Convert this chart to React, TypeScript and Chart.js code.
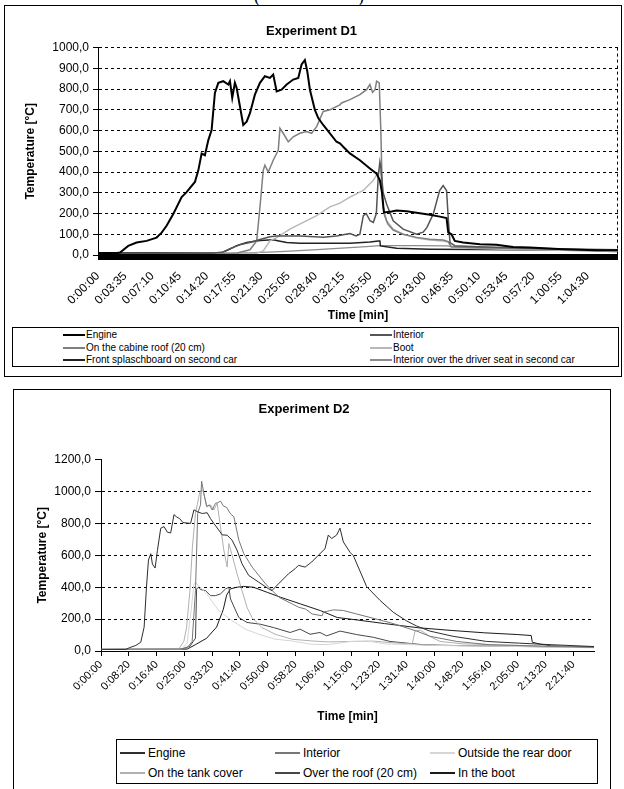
import React, { useEffect, useRef } from 'react';
import { Chart, registerables } from 'chart.js';

Chart.register(...registerables);

const FONT = '"Liberation Sans", Arial, Helvetica, sans-serif';

// ---------------- Experiment D1 ----------------
const d1TimeLabels = ['0:00:00', '0:03:35', '0:07:10', '0:10:45', '0:14:20', '0:17:55', '0:21:30', '0:25:05', '0:28:40', '0:32:15', '0:35:50', '0:39:25', '0:43:00', '0:46:35', '0:50:10', '0:53:45', '0:57:20', '1:00:55', '1:04:30'];
const d1TimeEnd = 4110; // s
const d1TempTicks = [0, 100, 200, 300, 400, 500, 600, 700, 800, 900, 1000];
const d1Names = ['Engine', 'Interior', 'On the cabine roof (20 cm)', 'Boot', 'Front splaschboard on second car', 'Interior over the driver seat in second car'];

// [time s, temperature °C]
const d1Engine = [[0, 10], [150, 10], [174, 12], [239, 44], [305, 60], [384, 68], [463, 84], [503, 108], [542, 141], [595, 198], [661, 279], [700, 303], [766, 352], [793, 408], [819, 489], [845, 481], [872, 554], [898, 603], [924, 781], [951, 830], [990, 838], [1030, 822], [1043, 838], [1061, 757], [1082, 830], [1096, 805], [1122, 716], [1148, 627], [1175, 643], [1201, 684], [1240, 773], [1280, 830], [1319, 862], [1359, 854], [1385, 870], [1412, 789], [1451, 797], [1491, 822], [1543, 846], [1583, 854], [1609, 919], [1635, 940], [1654, 886], [1675, 797], [1714, 700], [1741, 660], [1780, 627], [1833, 587], [1885, 546], [1912, 538], [1938, 522], [1991, 490], [2070, 457], [2149, 417], [2202, 392], [2228, 360], [2245, 300], [2260, 205], [2320, 210], [2360, 214], [2439, 211], [2544, 201], [2623, 194], [2702, 185], [2755, 178], [2768, 109], [2794, 100], [2820, 68], [2886, 60], [3019, 52], [3150, 49], [3281, 39], [3413, 36], [3677, 28], [3940, 23], [4110, 23]];
const d1Interior = [[0, 8], [900, 8], [990, 15], [1043, 30], [1122, 50], [1201, 60], [1280, 75], [1359, 88], [1412, 92], [1600, 92], [1780, 86], [1885, 92], [1991, 104], [2040, 92], [2070, 100], [2097, 190], [2120, 200], [2150, 165], [2176, 157], [2200, 200], [2215, 380], [2228, 449], [2236, 420], [2254, 300], [2281, 246], [2333, 165], [2412, 125], [2518, 100], [2570, 110], [2600, 133], [2650, 198], [2700, 311], [2728, 335], [2755, 311], [2768, 181], [2782, 60], [2820, 45], [3000, 40], [3300, 35], [3600, 30], [4110, 25]];
const d1CabineRoof = [[0, 5], [1100, 10], [1201, 25], [1254, 68], [1280, 230], [1306, 408], [1319, 433], [1346, 400], [1385, 457], [1425, 506], [1438, 611], [1464, 587], [1504, 546], [1543, 570], [1596, 587], [1649, 595], [1688, 587], [1728, 619], [1780, 692], [1833, 700], [1859, 708], [1912, 724], [1925, 733], [1991, 749], [2070, 773], [2123, 797], [2149, 822], [2170, 784], [2190, 797], [2202, 838], [2223, 830], [2236, 587], [2249, 250], [2265, 190], [2290, 150], [2333, 120], [2412, 100], [2518, 85], [2623, 76], [2728, 72], [2768, 65], [2790, 40], [3000, 35], [3400, 30], [4110, 22]];
const d1Boot = [[0, 5], [1250, 8], [1306, 20], [1359, 68], [1412, 84], [1517, 125], [1622, 157], [1728, 190], [1833, 232], [1912, 250], [1991, 279], [2097, 311], [2176, 360], [2215, 400], [2228, 415], [2241, 360], [2254, 230], [2281, 165], [2333, 125], [2412, 100], [2518, 82], [2623, 72], [2728, 68], [2768, 62], [2800, 35], [3200, 28], [4110, 18]];
const d1Splashboard = [[0, 10], [980, 12], [1030, 25], [1096, 45], [1175, 60], [1280, 70], [1385, 73], [1430, 68], [1491, 60], [1596, 57], [1780, 57], [1991, 57], [2150, 63], [2215, 68], [2228, 68], [2232, 44], [2360, 32], [2623, 28], [3000, 26], [3500, 24], [4110, 20]];
const d1DriverSeat = [[0, 5], [1050, 8], [1400, 15], [1700, 25], [1991, 36], [2150, 42], [2228, 45], [2500, 45], [2755, 44], [2800, 40], [3200, 35], [3600, 28], [4110, 15]];

const d1Series = [d1Engine, d1Interior, d1CabineRoof, d1Boot, d1Splashboard, d1DriverSeat];
const d1Colors = ['#000000', '#555555', '#7f7f7f', '#b8b8b8', '#222222', '#8c8c8c'];
const d1Widths = [2, 1.5, 1.5, 1.5, 1.5, 1.2];

// ---------------- Experiment D2 ----------------
const d2TimeLabels = ['0:00:00', '0:08:20', '0:16:40', '0:25:00', '0:33:20', '0:41:40', '0:50:00', '0:58:20', '1:06:40', '1:15:00', '1:23:20', '1:31:40', '1:40:00', '1:48:20', '1:56:40', '2:05:00', '2:13:20', '2:21:40'];
const d2TimeEnd = 8870; // s
const d2TempTicks = [0, 200, 400, 600, 800, 1000, 1200];
const d2Names = ['Engine', 'Interior', 'Outside the rear door', 'On the tank cover', 'Over the roof (20 cm)', 'In the boot'];

const d2Engine = [[0, 10], [448, 10], [507, 20], [627, 35], [716, 55], [776, 150], [818, 400], [854, 570], [896, 610], [925, 545], [973, 520], [1015, 630], [1075, 770], [1134, 780], [1194, 745], [1254, 740], [1313, 855], [1355, 842], [1415, 830], [1475, 805], [1612, 800], [1672, 885], [1731, 874], [1821, 862], [1910, 867], [1970, 830], [2030, 800], [2119, 758], [2179, 728], [2269, 726], [2358, 695], [2448, 632], [2537, 547], [2657, 474], [2836, 432], [3015, 390], [3075, 379], [3194, 421], [3373, 484], [3493, 516], [3553, 537], [3672, 526], [3791, 558], [3910, 600], [4030, 641], [4090, 727], [4150, 705], [4240, 727], [4300, 770], [4360, 684], [4480, 619], [4540, 598], [4779, 404], [5018, 318], [5258, 243], [5497, 189], [5677, 157], [5916, 125], [6335, 92], [6934, 60], [7533, 49], [8132, 39], [8870, 28]];
const d2Interior = [[0, 10], [1400, 12], [1550, 20], [1640, 60], [1700, 379], [1740, 863], [1790, 916], [1810, 1065], [1850, 990], [1900, 905], [1950, 916], [2000, 884], [2060, 926], [2100, 930], [2150, 940], [2200, 910], [2260, 900], [2330, 860], [2390, 842], [2480, 695], [2570, 610], [2720, 526], [2960, 421], [3200, 337], [3440, 295], [3560, 274], [3680, 263], [3800, 232], [3980, 221], [4000, 243], [4180, 258], [4360, 254], [4600, 232], [5200, 178], [5680, 125], [5920, 92], [6400, 60], [7000, 39], [8870, 22]];
const d2RearDoor = [[0, 10], [1450, 12], [1550, 50], [1620, 250], [1672, 421], [1700, 430], [1880, 368], [2119, 253], [2358, 190], [2597, 137], [2836, 105], [3134, 74], [3433, 63], [3791, 42], [4090, 40], [4500, 60], [4800, 62], [5100, 45], [6000, 35], [7500, 28], [8870, 20]];
const d2TankCover = [[0, 10], [1400, 12], [1490, 60], [1540, 147], [1600, 379], [1645, 653], [1700, 863], [1760, 968], [1780, 1000], [1830, 1010], [1910, 905], [1970, 916], [2030, 884], [2090, 926], [2150, 779], [2210, 632], [2270, 526], [2300, 674], [2360, 600], [2448, 484], [2537, 379], [2627, 274], [2716, 210], [2895, 147], [3134, 105], [3433, 74], [3791, 63], [4090, 57], [4540, 60], [4900, 62], [5300, 50], [5600, 45], [5650, 125], [5750, 130], [5900, 95], [6100, 60], [6500, 45], [7500, 35], [8870, 22]];
const d2OverRoof = [[0, 10], [1450, 12], [1600, 30], [1660, 60], [1700, 80], [1720, 390], [1760, 400], [1790, 385], [1880, 379], [1970, 347], [2060, 347], [2150, 358], [2240, 389], [2300, 400], [2330, 326], [2480, 210], [2627, 179], [2866, 168], [3105, 147], [3403, 116], [3582, 137], [3761, 105], [3940, 116], [4060, 95], [4300, 125], [4600, 103], [4900, 86], [5200, 60], [5800, 39], [6400, 34], [8870, 22]];
const d2Boot = [[0, 10], [1550, 12], [1700, 40], [1900, 80], [2080, 150], [2200, 260], [2260, 350], [2330, 390], [2450, 400], [2560, 405], [2740, 400], [2990, 368], [3230, 337], [3590, 295], [3950, 253], [4250, 210], [4600, 195], [5100, 172], [5700, 146], [6300, 129], [6900, 114], [7500, 103], [7740, 97], [7760, 55], [7900, 43], [8100, 32], [8870, 24]];

const d2Series = [d2Engine, d2Interior, d2RearDoor, d2TankCover, d2OverRoof, d2Boot];
const d2Colors = ['#2e2e2e', '#777777', '#d6d6d6', '#b0b0b0', '#474747', '#1a1a1a'];
const d2Widths = [1, 1, 1, 1, 1, 1];

// ---------------- helpers ----------------
const toSec = (s: string) => {
  const [h, m, sec] = s.split(':').map(Number);
  return h * 3600 + m * 60 + sec;
};
const fmtTemp = (v: number) => v.toFixed(1).replace('.', ',');

function buildDatasets(series: number[][][], names: string[], colors: string[], widths: number[]) {
  return series.map((s, i) => ({
    label: names[i],
    data: s.map(([x, y]) => ({ x, y })),
    borderColor: colors[i],
    backgroundColor: colors[i],
    borderWidth: widths[i],
    pointRadius: 0,
    tension: 0,
    fill: false,
  }));
}

const d1Frame = {
  id: 'd1Frame',
  afterDatasetsDraw(chart: any) {
    const { ctx, chartArea } = chart;
    const { left, right, top, bottom } = chartArea;
    ctx.save();
    ctx.strokeStyle = '#000';
    ctx.lineWidth = 1;
    ctx.setLineDash([3, 3]);
    ctx.beginPath();
    ctx.moveTo(Math.round(right) - 0.5, top);
    ctx.lineTo(Math.round(right) - 0.5, bottom);
    ctx.stroke();
    ctx.setLineDash([]);
    ctx.fillStyle = '#000';
    ctx.fillRect(left, bottom - 1, right - left, 6);
    ctx.restore();
  },
};

function useChart(ref: React.RefObject<HTMLCanvasElement>, makeConfig: () => any) {
  useEffect(() => {
    if (!ref.current) return;
    const chart = new Chart(ref.current, makeConfig());
    return () => chart.destroy();
  }, []);
}

function Legend(props: {
  names: string[]; colors: string[]; perRow: number; colX: number[]; rowY: number[];
  box: { left: number; top: number; width: number; height: number }; fontSize: number; lineLen: number; gap: number;
}) {
  const { names, colors, perRow, colX, rowY, box, fontSize, lineLen, gap } = props;
  return (
    <>
      <div style={{ position: 'absolute', left: box.left, top: box.top, width: box.width, height: box.height, border: '1px solid #000', boxSizing: 'border-box', background: '#fff' }} />
      {names.map((n, i) => {
        const col = i % perRow;
        const row = Math.floor(i / perRow);
        return (
          <div key={n} style={{ position: 'absolute', left: colX[col], top: rowY[row] - fontSize * 0.6, height: fontSize * 1.2, display: 'flex', alignItems: 'center', whiteSpace: 'nowrap', fontFamily: FONT, fontSize, color: '#000', lineHeight: 1.2 }}>
            <span style={{ display: 'inline-block', width: lineLen, height: 0, borderTop: `2px solid ${colors[i]}`, marginRight: gap }} />
            <span>{n}</span>
          </div>
        );
      })}
    </>
  );
}

export default function App() {
  const c1 = useRef<HTMLCanvasElement>(null);
  const c2 = useRef<HTMLCanvasElement>(null);

  const d1Ticks = d1TimeLabels.map(toSec);
  const d2Ticks = d2TimeLabels.map(toSec);

  useChart(c1, () => ({
    type: 'line',
    data: { datasets: buildDatasets(d1Series, d1Names, d1Colors, d1Widths) },
    options: {
      animation: false,
      responsive: false,
      events: [],
      layout: { padding: { left: 0, right: 2, top: 0, bottom: 0 } },
      plugins: {
        legend: { display: false },
        tooltip: { enabled: false },
        title: { display: true, text: 'Experiment D1', color: '#000', font: { family: FONT, size: 13, weight: 'bold' }, padding: { top: 18, bottom: 8 } },
      },
      scales: {
        x: {
          type: 'linear', min: 0, max: d1TimeEnd,
          afterBuildTicks: (sc: any) => { sc.ticks = d1Ticks.map((v) => ({ value: v })); },
          afterFit: (sc: any) => { sc.height = 71; },
          ticks: { autoSkip: false, minRotation: 45, maxRotation: 45, padding: 6, color: '#000', font: { family: FONT, size: 12 }, callback: (_v: any, i: number) => d1TimeLabels[i] },
          grid: { display: false },
          border: { display: false },
          title: { display: true, text: 'Time [min]', color: '#000', font: { family: FONT, size: 12, weight: 'bold' }, padding: { top: 0, bottom: 3 } },
        },
        y: {
          type: 'linear', min: 0, max: 1000,
          afterBuildTicks: (sc: any) => { sc.ticks = d1TempTicks.map((v) => ({ value: v })); },
          afterFit: (sc: any) => { sc.width = 93; },
          ticks: { color: '#000', padding: 4, font: { family: FONT, size: 12 }, callback: (v: any) => fmtTemp(Number(v)) },
          grid: { color: '#000', lineWidth: 1, drawTicks: true, tickLength: 5, tickColor: '#000' },
          border: { display: true, color: '#000', width: 1, dash: [3, 3] },
          title: { display: true, text: 'Temperature [°C]', color: '#000', font: { family: FONT, size: 12, weight: 'bold' }, padding: { top: 18, bottom: 0 } },
        },
      },
    },
    plugins: [d1Frame],
  }));

  useChart(c2, () => ({
    type: 'line',
    data: { datasets: buildDatasets(d2Series, d2Names, d2Colors, d2Widths) },
    options: {
      animation: false,
      responsive: false,
      events: [],
      layout: { padding: { left: 0, right: 16, top: 0, bottom: 0 } },
      plugins: {
        legend: { display: false },
        tooltip: { enabled: false },
        title: { display: true, text: 'Experiment D2', color: '#000', font: { family: FONT, size: 13, weight: 'bold' }, padding: { top: 12, bottom: 42 } },
      },
      scales: {
        x: {
          type: 'linear', min: 0, max: d2TimeEnd,
          afterBuildTicks: (sc: any) => { sc.ticks = d2Ticks.map((v) => ({ value: v })); },
          afterFit: (sc: any) => { sc.height = 79; },
          ticks: { autoSkip: false, minRotation: 45, maxRotation: 45, padding: 2, color: '#000', font: { family: FONT, size: 11 }, callback: (_v: any, i: number) => d2TimeLabels[i] },
          grid: { display: true, drawOnChartArea: false, drawTicks: true, tickLength: 5, color: '#000', tickColor: '#000' },
          border: { display: true, color: '#000', width: 1 },
          title: { display: true, text: 'Time [min]', color: '#000', font: { family: FONT, size: 12, weight: 'bold' }, padding: { top: 0, bottom: 6 } },
        },
        y: {
          type: 'linear', min: 0, max: 1200,
          afterBuildTicks: (sc: any) => { sc.ticks = d2TempTicks.map((v) => ({ value: v })); },
          afterFit: (sc: any) => { sc.width = 87; },
          ticks: { color: '#000', padding: 4, font: { family: FONT, size: 12 }, callback: (v: any) => fmtTemp(Number(v)) },
          grid: {
            color: (ctx: any) => (ctx.tick && (ctx.tick.value === 0 || ctx.tick.value === 1200) ? 'rgba(0,0,0,0)' : '#000'),
            lineWidth: 1, drawTicks: true, tickLength: 6, tickColor: '#000',
          },
          border: { display: true, color: '#000', width: 1, dash: [3, 3] },
          title: { display: true, text: 'Temperature [°C]', color: '#000', font: { family: FONT, size: 12, weight: 'bold' }, padding: { top: 21, bottom: 0 } },
        },
      },
    },
  }));

  return (
    <div style={{ position: 'absolute', left: 0, top: 0, width: 624, height: 789, overflow: 'hidden', background: '#fff' }}>
      {/* clipped bracket of the caption above the figure */}
      <div style={{ position: 'absolute', left: 254, top: -14, fontFamily: '"Liberation Serif", serif', fontSize: 18, lineHeight: '20px', color: '#000' }}>(</div>
      <div style={{ position: 'absolute', left: 358, top: -14, fontFamily: '"Liberation Serif", serif', fontSize: 18, lineHeight: '20px', color: '#000' }}>)</div>

      {/* Experiment D1 frame */}
      <div style={{ position: 'absolute', left: 4, top: 5, width: 618, height: 372, border: '1px solid #000', boxSizing: 'border-box', background: '#fff' }} />
      <canvas ref={c1} width={615} height={320} style={{ position: 'absolute', left: 5, top: 6 }} />
      <Legend names={d1Names} colors={d1Colors} perRow={2} colX={[63, 370]} rowY={[335, 348, 360]}
        box={{ left: 12, top: 327, width: 607, height: 40 }} fontSize={10} lineLen={22} gap={1} />

      {/* Experiment D2 frame */}
      <div style={{ position: 'absolute', left: 13, top: 389, width: 598, height: 420, border: '1px solid #000', boxSizing: 'border-box' }} />
      <canvas ref={c2} width={596} height={340} style={{ position: 'absolute', left: 14, top: 390 }} />
      <Legend names={d2Names} colors={d2Colors} perRow={3} colX={[120, 275, 430]} rowY={[753, 773]}
        box={{ left: 116, top: 739, width: 482, height: 45 }} fontSize={12} lineLen={25} gap={3} />
    </div>
  );
}
